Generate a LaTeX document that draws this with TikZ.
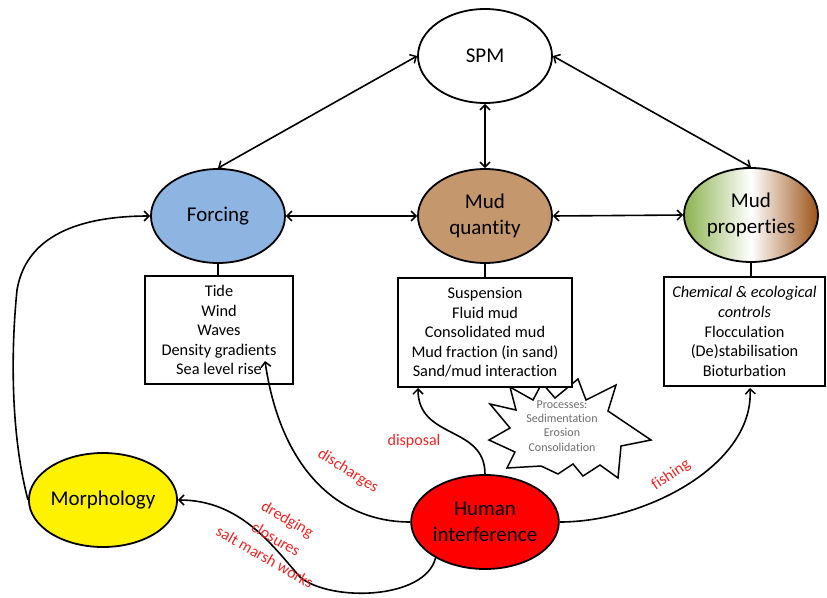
\documentclass[tikz,border=0pt]{standalone}
\usepackage{fontspec}
\setmainfont[Ligatures=NoCommon]{Carlito}
\usetikzlibrary{arrows.meta,shapes.geometric,calc}
\definecolor{forc}{RGB}{142,180,226}
\definecolor{mudq}{RGB}{196,151,108}
\definecolor{pgreen}{RGB}{140,178,78}
\definecolor{pbrown}{RGB}{156,84,24}
\definecolor{lab}{RGB}{236,38,38}
\definecolor{procgray}{RGB}{110,110,110}
\begin{document}
\begin{tikzpicture}[x=1pt,y=-1pt,
  ell/.style={ellipse,draw,line width=1.8pt,minimum width=134pt,minimum height=94pt,inner sep=0pt,align=center,font=\fontsize{21}{25.5}\selectfont},
  infobox/.style={draw,line width=1.5pt,fill=white,inner sep=0pt,align=center,font=\fontsize{16.3}{19.6}\selectfont},
  conn/.style={line width=1.6pt},
  arr/.style={conn,-{Straight Barb[length=5pt,width=10pt,line width=1.5pt]}},
  darr/.style={conn,{Straight Barb[length=5pt,width=10pt,line width=1.5pt]}-{Straight Barb[length=5pt,width=10pt,line width=1.5pt]}},
  lbl/.style={text=lab,font=\fontsize{16}{19}\selectfont,inner sep=0pt}]
\useasboundingbox (0,0) rectangle (827,597);

% ellipses
\node[ell] (spm) at (485,56) {SPM};
\node[ell,fill=forc] (forc) at (218,216) {Forcing};
\node[ell,fill=mudq] (mudq) at (485,216) {Mud\\quantity};
\node[ell,left color=pgreen,right color=pbrown,middle color=white] (props) at (751,215) {Mud\\properties};
\node[ell,fill=yellow] (morph) at (103,500) {Morphology};
\node[ell,fill=red] (human) at (485,522) {Human\\interference};

% starburst
\draw[line width=1.5pt,fill=white] (510,387) -- (533,400) -- (542,383) -- (555,398) -- (578,379) -- (586,400)
  -- (616,385) -- (608,411) -- (651,440) -- (621,446) -- (618,478) -- (600,465) -- (583,476)
  -- (573,464) -- (558,474) -- (541,466) -- (507,468) -- (515,452) -- (489,440) -- (510,428)
  -- (490,404) -- (516,410) -- cycle;
\node[text=procgray,align=center,font=\fontsize{12}{14.2}\selectfont,inner sep=0pt] (proc) at (562,426)
  {Processes:\\Sedimentation\\Erosion\\Consolidation};

% boxes
\node[infobox,minimum width=148pt,minimum height=108pt] (fbox) at (219,330)
  {Tide\\Wind\\Waves\\Density gradients\\Sea level rise};
\node[infobox,minimum width=174pt,minimum height=109pt] (qbox) at (485,332.5)
  {Suspension\\Fluid mud\\Consolidated mud\\Mud fraction (in sand)\\Sand/mud interaction};
\node[infobox,minimum width=161pt,minimum height=109pt] (pbox) at (744.5,331.5)
  {\textit{Chemical \& ecological}\\\textit{controls}\\Flocculation\\(De)stabilisation\\Bioturbation};

% box connectors
\draw[conn] (forc.south) -- (fbox.north -| forc.south);
\draw[conn] (mudq.south) -- (qbox.north -| mudq.south);
\draw[conn] (props.south) -- (pbox.north -| props.south);

% main arrows
\draw[darr] (spm.west) -- (forc.north);
\draw[darr] (spm.south) -- (mudq.north);
\draw[darr] (spm.east) -- (props.north);
\draw[darr] (forc.east) -- (mudq.west);
\draw[darr] (mudq.east) -- (props.west);

% morphology -> forcing
\draw[arr] (morph.west) .. controls (12,440) and (10,360) .. (17,290)
  .. controls (27,230) and (90,216) .. (forc.west);

% human interference arrows
\coordinate (dischEnd) at (265,361);
\coordinate (dispEnd) at (418,388);
\coordinate (fishEnd) at (750,388);
\draw[arr] (human.west) .. controls (335,522) and (280,465) .. (dischEnd);
\draw[arr] (human.north) .. controls (485,425) and (418,440) .. (dispEnd);
\draw[arr] (human.east) .. controls (645,522) and (754,465) .. (fishEnd);
\draw[arr] (human.216) .. controls (425,600) and (330,602) .. (300,577)
  .. controls (272,545) and (240,500) .. (morph.east);

% labels
\node[lbl,rotate=-32] (ldis) at (348,471) {discharges};
\node[lbl] (ldisp) at (414,441) {disposal};
\node[lbl,rotate=34] (lfish) at (671,475) {fishing};
\node[lbl,rotate=-30] (ldred) at (287,520) {dredging};
\node[lbl,rotate=-30] (lclos) at (276,539) {closures};
\node[lbl,rotate=-30] (lsalt) at (265,557) {salt marsh works};
\end{tikzpicture}
\end{document}
